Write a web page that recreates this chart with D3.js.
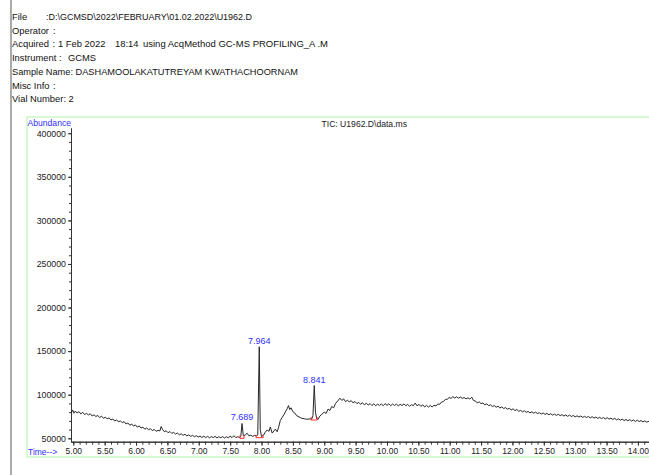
<!DOCTYPE html>
<html lang="en">
<head>
<meta charset="UTF-8">
<title>TIC: U1962.D\data.ms</title>
<style>
  body { margin: 0; background: #fff; }
  svg { display: block; font-family: "Liberation Sans", Arial, sans-serif; }
</style>
</head>
<body>
<script src="https://d3js.org/d3.v7.min.js"></script>
<script>
// ---- data ----
var headerLines = [
  ["File", ":D:\\GCMSD\\2022\\FEBRUARY\\01.02.2022\\U1962.D"],
  ["Operator", ":"],
  ["Acquired", ":", "1 Feb 2022", "18:14", "using AcqMethod GC-MS PROFILING_A .M"],
  ["Instrument :", "GCMS"],
  ["Sample Name: DASHAMOOLAKATUTREYAM KWATHACHOORNAM"],
  ["Misc Info", ":"],
  ["Vial Number: 2"]
];
var chartTitle = "TIC: U1962.D\\data.ms";
var yTicks = [50000, 100000, 150000, 200000, 250000, 300000, 350000, 400000];
var xTicks = [5.0, 5.5, 6.0, 6.5, 7.0, 7.5, 8.0, 8.5, 9.0, 9.5, 10.0, 10.5, 11.0, 11.5, 12.0, 12.5, 13.0, 13.5, 14.0];

// [retention time (min), abundance]
var tic = [
  [4.97,79500],[4.99,82500],[5.01,78800],[5.03,81000],[5.06,79200],[5.09,80600],[5.12,78000],[5.15,79800],
  [5.18,77200],[5.21,78600],[5.24,76800],[5.27,78200],[5.30,75600],[5.33,77000],[5.36,75000],[5.39,76200],
  [5.42,73800],[5.45,75400],[5.48,73000],[5.51,74200],[5.54,72400],[5.57,73400],[5.60,71000],[5.63,72200],
  [5.66,69800],[5.69,71200],[5.72,68800],[5.75,70000],[5.78,67800],[5.81,69200],[5.84,66400],[5.87,67600],
  [5.90,65000],[5.93,66400],[5.96,64000],[5.99,65400],[6.02,62800],[6.05,64200],[6.08,61800],[6.11,62800],
  [6.14,60400],[6.17,61800],[6.20,59800],[6.23,61000],[6.26,58800],[6.29,60200],[6.32,58000],[6.35,59200],
  [6.38,58400],[6.40,63500],[6.42,60400],[6.45,57600],[6.48,58600],[6.51,56400],[6.54,57800],[6.57,55600],
  [6.60,56800],[6.63,54800],[6.66,56000],[6.69,54000],[6.72,55200],[6.75,53400],[6.78,54600],[6.81,52800],
  [6.84,54000],[6.87,52200],[6.90,53400],[6.93,51800],[6.96,53000],[6.99,51400],[7.02,52600],[7.05,51000],
  [7.08,52400],[7.11,50800],[7.14,52200],[7.17,50600],[7.20,52000],[7.23,50800],[7.26,52200],[7.29,50400],
  [7.32,51800],[7.35,50600],[7.38,52000],[7.41,50400],[7.44,51800],[7.47,50600],[7.50,52400],[7.53,50800],
  [7.56,53000],[7.59,50800],[7.62,51800],[7.65,51000],[7.67,52200],[7.689,67000],[7.71,53000],[7.74,53800],
  [7.77,55800],[7.80,52800],[7.83,53600],[7.86,52200],[7.89,53400],[7.92,52600],[7.94,53800],[7.964,155000],
  [7.98,60000],[8.00,52000],[8.03,53500],[8.06,57000],[8.09,59500],[8.12,58000],[8.14,63000],[8.17,56000],
  [8.20,58500],[8.22,60500],[8.25,57500],[8.27,62000],[8.30,70500],[8.33,74000],[8.36,77500],[8.39,81500],
  [8.41,84000],[8.43,87500],[8.45,83000],[8.47,85000],[8.50,80500],[8.53,79000],[8.56,76000],[8.60,74500],
  [8.64,73000],[8.68,72500],[8.72,71800],[8.76,72200],[8.80,72000],[8.82,76000],[8.841,110500],[8.86,80000],
  [8.88,72500],[8.90,71500],[8.93,75500],[8.96,77500],[9.00,80000],[9.03,78500],[9.06,83500],[9.09,82000],
  [9.12,86500],[9.15,85000],[9.18,90000],[9.21,92500],[9.25,96000],[9.28,93500],[9.31,95200],[9.34,92000],
  [9.37,93800],[9.40,91600],[9.43,93200],[9.46,90600],[9.49,92200],[9.52,89800],[9.55,91200],[9.58,89000],
  [9.61,90800],[9.64,88400],[9.67,90200],[9.70,88200],[9.73,89800],[9.76,87600],[9.79,89600],[9.82,87400],
  [9.85,89200],[9.88,87600],[9.91,89400],[9.94,87400],[9.97,89800],[10.00,87800],[10.03,89600],[10.06,87400],
  [10.09,89400],[10.12,87600],[10.15,89200],[10.18,87200],[10.21,89000],[10.24,87600],[10.27,89400],[10.30,87400],
  [10.33,88800],[10.36,86800],[10.39,88600],[10.42,87400],[10.45,90400],[10.48,87200],[10.51,89000],[10.54,86600],
  [10.57,88400],[10.60,86000],[10.63,87800],[10.66,85800],[10.69,87600],[10.72,86000],[10.75,88000],[10.78,87000],
  [10.81,89400],[10.84,89000],[10.87,91600],[10.90,92200],[10.93,94600],[10.96,94800],[10.99,96800],[11.02,95800],
  [11.05,97800],[11.08,96200],[11.11,97600],[11.14,96000],[11.17,97400],[11.20,95800],[11.23,96800],[11.26,95200],
  [11.29,96400],[11.32,95000],[11.35,97200],[11.38,93400],[11.41,92800],[11.44,90600],[11.47,91800],[11.50,89800],
  [11.53,90600],[11.56,88400],[11.59,89600],[11.62,87400],[11.65,88400],[11.68,86400],[11.71,87600],[11.74,85600],
  [11.77,86800],[11.80,84800],[11.83,86000],[11.86,84200],[11.89,85200],[11.92,83400],[11.95,84400],[11.98,82600],
  [12.01,83800],[12.04,81800],[12.07,83000],[12.10,81000],[12.13,82000],[12.16,80400],[12.19,81600],[12.22,79800],
  [12.25,80800],[12.28,79200],[12.31,80400],[12.34,78800],[12.37,80000],[12.40,78400],[12.43,79400],[12.46,77800],
  [12.49,79000],[12.52,77400],[12.55,78600],[12.58,77000],[12.61,78200],[12.64,76600],[12.67,77800],[12.70,76200],
  [12.73,77600],[12.76,76000],[12.79,77200],[12.82,75600],[12.85,76800],[12.88,75200],[12.91,76600],[12.94,75000],
  [12.97,76200],[13.00,74600],[13.03,75800],[13.06,74400],[13.09,75600],[13.12,74000],[13.15,75200],[13.18,73800],
  [13.21,75000],[13.24,73400],[13.27,74800],[13.30,73200],[13.33,74400],[13.36,72800],[13.39,74000],[13.42,72600],
  [13.45,73800],[13.48,72200],[13.51,73600],[13.54,72000],[13.57,73200],[13.60,71600],[13.63,72800],[13.66,71200],
  [13.69,72400],[13.72,70800],[13.75,72000],[13.78,70400],[13.81,71600],[13.84,70200],[13.87,71400],[13.90,69800],
  [13.93,71000],[13.96,69400],[13.99,70800],[14.02,69200],[14.05,70400],[14.08,68800],[14.11,70000],[14.14,68600],
  [14.18,69600]
];

// labelled peaks: retention time, integration start/end, baseline abundance, apex
var peakRT    = [7.689, 7.964, 8.841];
var peakStart = [7.657, 7.913, 8.790];
var peakEnd   = [7.721, 8.025, 8.886];
var peakBase  = [50000, 50700, 71000];
var peakTop   = [67000, 155000, 110500];

// ---- drawing ----
var W = 649, H = 475;
var svg = d3.select("body").append("svg").attr("width", W).attr("height", H);

// grey page edge on the left
svg.append("line").attr("x1", 11).attr("x2", 11).attr("y1", 0).attr("y2", H)
  .attr("stroke", "#aaaaaa").attr("stroke-width", 2);

// header block: left edge of each piece, and the width of the long ones
var headerCols = [[12, 46], [12, 53], [12, 52.5, 58, 115, 143], [12, 68], [12], [12, 53], [12]];
var headerLens = [[0, 206], [0, 0], [0, 0, 0, 0, 185], [0, 0], [286], [0, 0], [0]];
headerLines.forEach(function (parts, i) {
  parts.forEach(function (t, j) {
    var tx = svg.append("text")
      .attr("x", headerCols[i][j]).attr("y", 19.8 + i * 13.75)
      .attr("font-size", 9.4).attr("fill", "#111")
      .text(t);
    if (headerLens[i][j]) tx.attr("textLength", headerLens[i][j]).attr("lengthAdjust", "spacingAndGlyphs");
  });
});

// light green frame round the plot
svg.append("rect").attr("x", 27).attr("y", 117).attr("width", 640).attr("height", 340)
  .attr("fill", "none").attr("stroke", "#aef5a6").attr("stroke-width", 1);

var x = d3.scaleLinear().domain([4.963, 14.18]).range([71, 649.2]);
var y = d3.scaleLinear().domain([46100, 406000]).range([441.7, 128]);

var fmtY = d3.format("d"), fmtX = d3.format(".2f");

// y axis: minor then major
var yMinor = d3.range(5, 41).map(function (d) { return d * 10000; });
svg.append("g").attr("transform", "translate(71,0)")
  .call(d3.axisLeft(y).tickValues(yMinor).tickSize(2).tickFormat("").tickSizeOuter(0));
var gy = svg.append("g").attr("transform", "translate(71,0)")
  .call(d3.axisLeft(y).tickValues(yTicks).tickSize(3).tickPadding(2).tickFormat(fmtY).tickSizeOuter(0));

// x axis: minor then major
var xMinor = d3.range(50, 142).map(function (d) { return d / 10; });
svg.append("g").attr("transform", "translate(0,441.7)")
  .call(d3.axisBottom(x).tickValues(xMinor).tickSize(3).tickFormat("").tickSizeOuter(0));
var gx = svg.append("g").attr("transform", "translate(0,441.7)")
  .call(d3.axisBottom(x).tickValues(xTicks).tickSize(4).tickPadding(2).tickFormat(fmtX).tickSizeOuter(0));

svg.selectAll(".domain").attr("stroke", "#333");
svg.selectAll(".tick line").attr("stroke", "#333");
gy.selectAll("text").attr("font-size", 8.8).attr("fill", "#222").attr("font-family", "Liberation Sans, Arial, sans-serif");
gx.selectAll("text").attr("font-size", 8.5).attr("fill", "#222").attr("font-family", "Liberation Sans, Arial, sans-serif");

// axis captions
svg.append("text").attr("x", 27.5).attr("y", 125.5).attr("font-size", 8.6)
  .attr("fill", "#3030ff").text("Abundance");
svg.append("text").attr("x", 28).attr("y", 455).attr("font-size", 8.5)
  .attr("fill", "#3030ff").text("Time-->");
svg.append("text").attr("x", 321.5).attr("y", 127).attr("font-size", 8.6)
  .attr("fill", "#222").text(chartTitle);

// trace
var line = d3.line().x(function (d) { return x(d[0]); }).y(function (d) { return y(d[1]); });
svg.append("path").datum(tic).attr("d", line)
  .attr("fill", "none").attr("stroke", "#262626").attr("stroke-width", 1);

// integration baselines (red) and peak labels (blue)
peakRT.forEach(function (rt, i) {
  var yb = y(peakBase[i]);
  svg.append("path")
    .attr("d", "M" + x(peakStart[i]) + "," + (yb - 3) + "V" + yb + "H" + x(peakEnd[i]) + "V" + (yb - 3))
    .attr("fill", "none").attr("stroke", "#ff2a2a").attr("stroke-width", 1);
  svg.append("text")
    .attr("x", x(rt)).attr("y", y(peakTop[i]) - 3)
    .attr("text-anchor", "middle").attr("font-size", 9)
    .attr("fill", "#3030ff").text(rt.toFixed(3));
});
</script>
</body>
</html>
